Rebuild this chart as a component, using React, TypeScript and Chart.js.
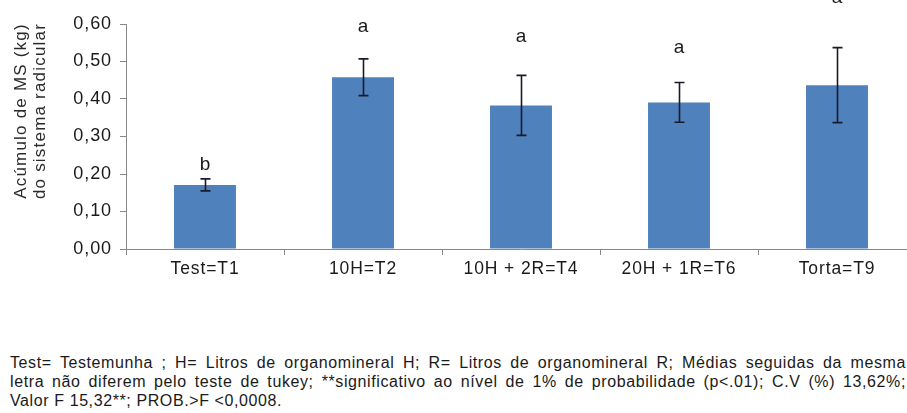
import React, { useEffect, useRef } from 'react';
import { Chart, registerables } from 'chart.js';

Chart.register(...registerables);

const categories = ['Test=T1', '10H=T2', '10H + 2R=T4', '20H + 1R=T6', 'Torta=T9'];
const means = [0.171, 0.458, 0.383, 0.391, 0.437];
const errors = [0.016, 0.049, 0.08, 0.053, 0.1];
const letters = ['b', 'a', 'a', 'a', 'a'];
const letterLevels = [0.212, 0.579, 0.552, 0.522, 0.655];
const yTicks = [0, 0.1, 0.2, 0.3, 0.4, 0.5, 0.6];
const yTitleLines = ['Acúmulo de MS (kg)', 'do sistema radicular'];
const footnoteLines = [
  'Test= Testemunha ; H= Litros de organomineral H; R= Litros de organomineral R; Médias seguidas da mesma',
  'letra não diferem pelo teste de tukey; **significativo ao nível de 1% de probabilidade (p<.01); C.V (%) 13,62%;',
  'Valor F 15,32**; PROB.>F <0,0008.',
];

const FONT = "'Liberation Sans', Arial, sans-serif";
const SPACING = '0.9px';

const extrasPlugin = {
  id: 'extras',
  beforeLayout(chart: any) {
    (chart.ctx as any).letterSpacing = SPACING;
  },
  beforeDraw(chart: any) {
    (chart.ctx as any).letterSpacing = SPACING;
  },
  afterDatasetsDraw(chart: any) {
    const ctx = chart.ctx;
    const y = chart.scales.y;
    const meta = chart.getDatasetMeta(0);
    ctx.save();
    ctx.strokeStyle = '#1a1a2a';
    ctx.lineWidth = 1.6;
    meta.data.forEach((bar: any, i: number) => {
      const x = Math.round(bar.x) + 0.5;
      const top = y.getPixelForValue(means[i] + errors[i]);
      const bot = y.getPixelForValue(means[i] - errors[i]);
      ctx.beginPath();
      ctx.moveTo(x, top);
      ctx.lineTo(x, bot);
      ctx.moveTo(x - 5, top);
      ctx.lineTo(x + 5, top);
      ctx.moveTo(x - 5, bot);
      ctx.lineTo(x + 5, bot);
      ctx.stroke();
    });
    ctx.fillStyle = '#1a1a1a';
    ctx.font = `19px ${FONT}`;
    (ctx as any).letterSpacing = '0px';
    ctx.textAlign = 'center';
    ctx.textBaseline = 'alphabetic';
    meta.data.forEach((bar: any, i: number) => {
      ctx.fillText(letters[i], bar.x, y.getPixelForValue(letterLevels[i]));
    });
    ctx.restore();
  },
  afterDraw(chart: any) {
    const ctx = chart.ctx;
    ctx.save();
    ctx.fillStyle = '#2a2a2a';
    ctx.font = `17px ${FONT}`;
    (ctx as any).letterSpacing = '1.2px';
    ctx.textAlign = 'center';
    ctx.textBaseline = 'middle';
    const cy = 111;
    const xs = [21, 40];
    yTitleLines.forEach((t, k) => {
      ctx.save();
      ctx.translate(xs[k], cy);
      ctx.rotate(-Math.PI / 2);
      ctx.fillText(t, 0, 0);
      ctx.restore();
    });
    ctx.restore();
  },
};

export default function App() {
  const ref = useRef<HTMLCanvasElement | null>(null);

  useEffect(() => {
    if (!ref.current) return;
    const chart = new Chart(ref.current, {
      type: 'bar',
      data: {
        labels: categories,
        datasets: [
          {
            data: means,
            backgroundColor: '#4F81BD',
            borderWidth: 0,
            barPercentage: 0.392,
            categoryPercentage: 1,
          },
        ],
      },
      options: {
        animation: false,
        responsive: false,
        devicePixelRatio: 1,
        layout: { padding: { top: 24, left: 0, right: 0, bottom: 0 } },
        plugins: {
          legend: { display: false },
          tooltip: { enabled: false },
        },
        scales: {
          x: {
            grid: {
              display: true,
              drawOnChartArea: false,
              drawTicks: true,
              tickLength: 6,
              color: '#888',
              offset: true,
            },
            border: { color: '#888', width: 1 },
            ticks: {
              color: '#1a1a1a',
              font: { family: FONT, size: 17.5 },
              padding: 4,
              maxRotation: 0,
              autoSkip: false,
            },
            afterFit(scale: any) {
              scale.height = 51;
            },
          },
          y: {
            min: yTicks[0],
            max: yTicks[yTicks.length - 1],
            grid: {
              drawOnChartArea: false,
              drawTicks: true,
              tickLength: 6,
              color: '#888',
            },
            border: { color: '#888', width: 1 },
            ticks: {
              stepSize: 0.1,
              color: '#1a1a1a',
              font: { family: FONT, size: 18 },
              padding: 8,
              callback: (v: any) => Number(v).toFixed(2).replace('.', ','),
            },
            afterBuildTicks(scale: any) {
              scale.ticks = yTicks.map((v) => ({ value: v }));
            },
            afterFit(scale: any) {
              scale.width = 126;
            },
          },
        },
      },
      plugins: [extrasPlugin],
    });
    return () => chart.destroy();
  }, []);

  return (
    <div
      style={{
        position: 'fixed',
        left: 0,
        top: 0,
        width: 907,
        height: 413,
        overflow: 'hidden',
        background: '#fff',
      }}
    >
      <canvas ref={ref} width={916} height={300} style={{ position: 'absolute', left: 0, top: 0 }} />
      <div
        style={{
          position: 'absolute',
          left: 10,
          top: 353,
          width: 896,
          fontFamily: FONT,
          fontSize: 16,
          lineHeight: '19px',
          letterSpacing: '0.6px',
          color: '#1a1a1a',
        }}
      >
        {footnoteLines.map((line, i) => (
          <div
            key={i}
            style={{
              textAlign: i < footnoteLines.length - 1 ? 'justify' : 'left',
              textAlignLast: i < footnoteLines.length - 1 ? 'justify' : 'left',
            }}
          >
            {line}
          </div>
        ))}
      </div>
    </div>
  );
}
